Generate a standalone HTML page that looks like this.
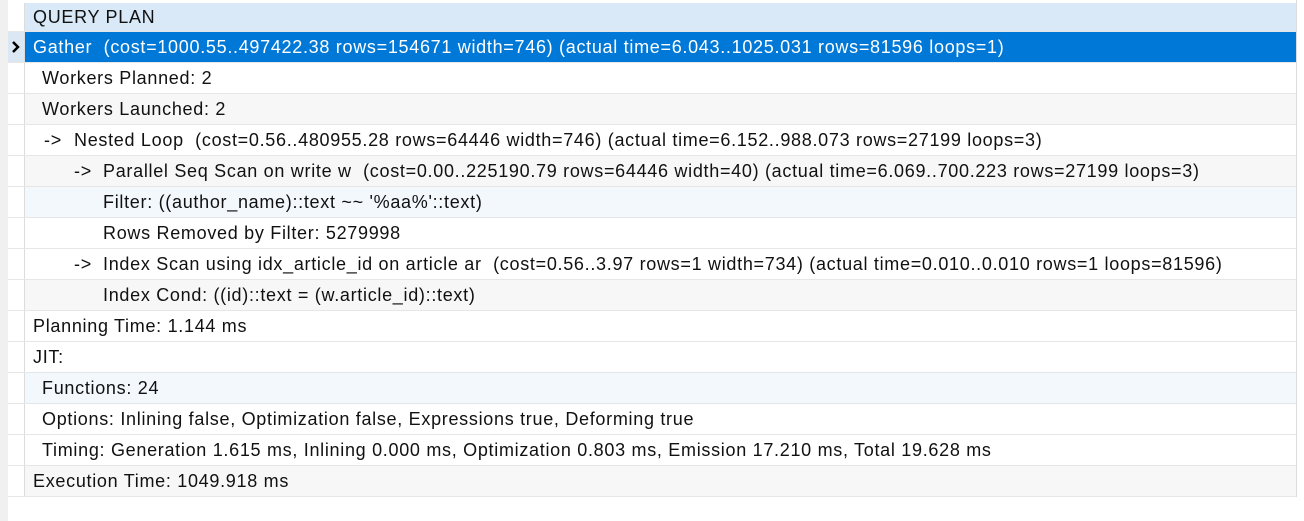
<!DOCTYPE html>
<html><head><meta charset="utf-8"><style>
html,body{margin:0;padding:0;width:1304px;height:521px;overflow:hidden;background:#fff;font-family:"Liberation Sans","Noto Sans CJK SC",sans-serif;}
#strip{position:absolute;left:0;top:0;width:8px;height:521px;background:#f0f0f0;}
.row{position:absolute;left:8px;width:1288px;height:30px;border-bottom:1px solid #e6e6e6;}
.gut{position:absolute;left:0;top:0;width:16px;height:100%;border-right:1px solid #dcdcdc;background:#fff;}
.cell{position:absolute;left:17px;right:0;top:0;height:100%;font-size:18px;letter-spacing:0.7px;line-height:30px;color:#111;white-space:pre;}
.t{position:absolute;top:0;}
.hdr .cell{background:#d9e9f7;}
.sel .cell{background:#0078d7;color:#fff;}
.alt .cell{background:#f7f7f7;}
.hov .cell{background:#f3f8fd;}
#rborder{position:absolute;left:1296px;top:0;width:1px;height:497px;background:#dcdcdc;}
</style></head><body>
<div id="strip"></div>
<div id="grid"></div>
<div id="rborder"></div>
<script>
const rows=[
 ["hdr",[[33,"QUERY PLAN"]]],
 ["sel",[[33,"Gather  (cost=1000.55..497422.38 rows=154671 width=746) (actual time=6.043..1025.031 rows=81596 loops=1)"]]],
 ["",[[42,"Workers Planned: 2"]]],
 ["alt",[[42,"Workers Launched: 2"]]],
 ["",[[44,"->"],[74,"Nested Loop  (cost=0.56..480955.28 rows=64446 width=746) (actual time=6.152..988.073 rows=27199 loops=3)"]]],
 ["alt",[[74,"->"],[103,"Parallel Seq Scan on write w  (cost=0.00..225190.79 rows=64446 width=40) (actual time=6.069..700.223 rows=27199 loops=3)"]]],
 ["hov",[[103,"Filter: ((author_name)::text ~~ '%aa%'::text)"]]],
 ["",[[103,"Rows Removed by Filter: 5279998"]]],
 ["",[[74,"->"],[103,"Index Scan using idx_article_id on article ar  (cost=0.56..3.97 rows=1 width=734) (actual time=0.010..0.010 rows=1 loops=81596)"]]],
 ["alt",[[103,"Index Cond: ((id)::text = (w.article_id)::text)"]]],
 ["",[[33,"Planning Time: 1.144 ms"]]],
 ["",[[33,"JIT:"]]],
 ["hov",[[42,"Functions: 24"]]],
 ["",[[42,"Options: Inlining false, Optimization false, Expressions true, Deforming true"]]],
 ["",[[42,"Timing: Generation 1.615 ms, Inlining 0.000 ms, Optimization 0.803 ms, Emission 17.210 ms, Total 19.628 ms"]]],
 ["alt",[[33,"Execution Time: 1049.918 ms"]]]
];
const g=document.getElementById('grid');
rows.forEach((r,i)=>{
 const d=document.createElement('div');
 d.className='row '+r[0];
 
 
 const top=i==0?3:32+31*(i-1);
 d.style.top=top+'px';
 if(i==0)d.style.height='28px';
 const gu=document.createElement('div');gu.className='gut';
 
 
 if(r[0]=='sel'){gu.innerHTML='<svg width="16" height="30"><path d="M5 10 L10 15 L5 20" stroke="#000" stroke-width="2.5" fill="none"/></svg>';gu.style.background='#dbe8f4';}
 d.appendChild(gu);
 const c=document.createElement('div');c.className='cell';
 
 
 if(i==0)c.style.lineHeight='28px';
 r[1].forEach(p=>{const s=document.createElement('span');s.className='t';s.style.left=(p[0]-25)+'px';s.textContent=p[1];
  
  
  c.appendChild(s);});
 d.appendChild(c);g.appendChild(d);
});
</script>
</body></html>
